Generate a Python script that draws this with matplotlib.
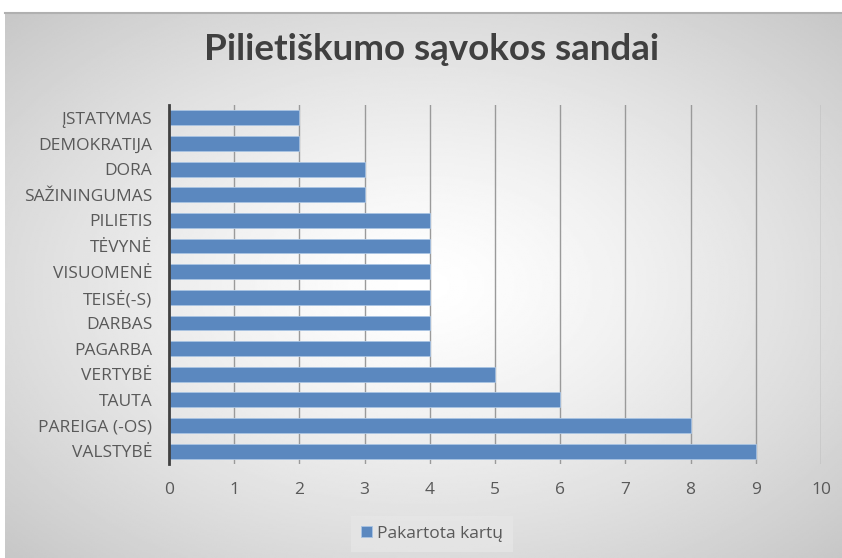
import numpy as np
import matplotlib.pyplot as plt

# data (top to bottom in the picture)
categories = ['ĮSTATYMAS', 'DEMOKRATIJA', 'DORA', 'SAŽININGUMAS', 'PILIETIS',
              'TĖVYNĖ', 'VISUOMENĖ', 'TEISĖ(-S)', 'DARBAS', 'PAGARBA',
              'VERTYBĖ', 'TAUTA', 'PAREIGA (-OS)', 'VALSTYBĖ']
values = [2, 2, 3, 3, 4, 4, 4, 4, 4, 4, 5, 6, 8, 9]
series_name = 'Pakartota kartų'
title = 'Pilietiškumo sąvokos sandai'

plt.rcParams['font.family'] = ['Open Sans', 'DejaVu Sans']

W, H = 842, 558
fig = plt.figure(figsize=(W / 100, H / 100), dpi=100, facecolor='white')

# radial gradient background of the chart area
bg = fig.add_axes([5 / W, 0, 1 - 5 / W, 1 - 13 / H])
yy, xx = np.mgrid[-1:1:300j, -1:1:450j]
r = np.sqrt(xx ** 2 + yy ** 2) / np.sqrt(2)
shade = 1.0 - 0.22 * r ** 1.3
bg.imshow(shade, cmap='gray', vmin=0, vmax=1, aspect='auto', extent=[0, 1, 0, 1])
bg.set_axis_off()
bg.plot([0, 1], [1, 1], color='#b0b0b0', lw=1.5, transform=bg.transAxes, clip_on=False)

ax = fig.add_axes([169 / W, 1 - 464 / H, 652 / W, 359 / H])
ax.patch.set_alpha(0)
y = np.arange(len(categories))
ax.barh(y, values, height=0.58, color='#5b88bf', edgecolor='#a9c4e3', linewidth=0.6,
        label=series_name, zorder=3)
ax.set_yticks(y)
ax.set_yticklabels(categories, fontsize=12.5, color='#595959')
ax.set_ylim(len(categories) - 0.5, -0.5)
ax.set_xlim(0, 10)
ax.set_xticks(range(0, 11))
ax.tick_params(axis='x', labelsize=12.5, colors='#595959', length=0, pad=13)
ax.tick_params(axis='y', length=0, pad=12)
ax.grid(axis='x', color='#9a9a9a', lw=1, zorder=1)
for s in ['top', 'right', 'bottom']:
    ax.spines[s].set_visible(False)
ax.spines['left'].set_color('#404040')
ax.spines['left'].set_linewidth(2)
ax.spines['left'].set_zorder(4)

fig.text(432 / W, 1 - 50 / H, title, fontsize=26.5, fontweight='bold', color='#404040',
         family=['Lato', 'DejaVu Sans'], ha='center', va='center')

leg = ax.legend(loc='center', bbox_to_anchor=(432 / W, 1 - 534 / H), bbox_transform=fig.transFigure,
                fontsize=12.5, frameon=True, handlelength=0.6, handleheight=0.6, handletextpad=0.3,
                borderpad=0.6, borderaxespad=0, fancybox=False)
leg.get_frame().set_facecolor('#e6e6e6')
leg.get_frame().set_edgecolor('none')
for t in leg.get_texts():
    t.set_color('#595959')

fig.savefig('out.png', dpi=100, facecolor='white')
